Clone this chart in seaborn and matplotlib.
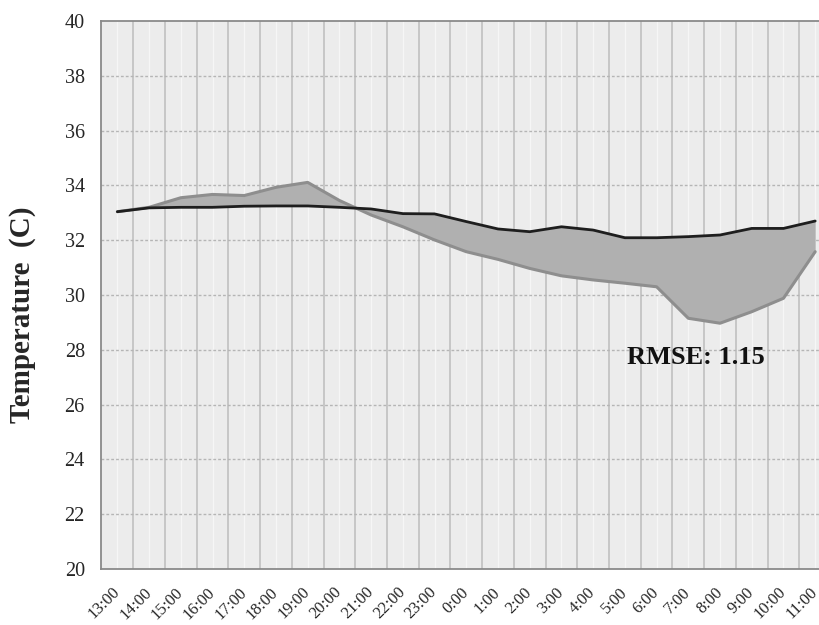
import numpy as np
import pandas as pd
import matplotlib
matplotlib.use("Agg")
import matplotlib.pyplot as plt
import seaborn as sns

hours = ["13:00", "14:00", "15:00", "16:00", "17:00", "18:00", "19:00", "20:00",
         "21:00", "22:00", "23:00", "0:00", "1:00", "2:00", "3:00", "4:00",
         "5:00", "6:00", "7:00", "8:00", "9:00", "10:00", "11:00"]
observed = [33.04, 33.18, 33.20, 33.20, 33.24, 33.25, 33.25, 33.20,
            33.14, 32.97, 32.96, 32.68, 32.41, 32.31, 32.49, 32.37,
            32.09, 32.09, 32.13, 32.19, 32.43, 32.43, 32.70]
predicted = [33.04, 33.20, 33.55, 33.67, 33.63, 33.93, 34.11, 33.45,
             32.92, 32.49, 32.01, 31.58, 31.30, 30.97, 30.70, 30.55,
             30.43, 30.30, 29.15, 28.97, 29.39, 29.88, 31.58]
y_ticks = [20, 22, 24, 26, 28, 30, 32, 34, 36, 38, 40]
rmse_text = "RMSE: 1.15"

sns.set_theme(style="white")
plt.rcParams["font.family"] = ["Liberation Serif", "DejaVu Serif"]

idx = np.arange(len(hours))
df = pd.DataFrame({"idx": idx, "observed": observed, "predicted": predicted})

fig = plt.figure(figsize=(8.2, 6.25), dpi=100)
ax = fig.add_axes([101.5 / 820, 56 / 625, (820 - 101.5) / 820, 548 / 625])
ax.set_facecolor("#ececec")

ax.fill_between(df["idx"], df["observed"], df["predicted"], color="#b0b0b0",
                linewidth=0, zorder=2)
sns.lineplot(data=df, x="idx", y="predicted", ax=ax, color="#8e8e8e",
             linewidth=2.2, zorder=3)
sns.lineplot(data=df, x="idx", y="observed", ax=ax, color="#1e1e1e",
             linewidth=2.0, zorder=4)

ax.set_yticks(y_ticks)
ax.set_yticklabels([str(v) for v in y_ticks], fontsize=14.5)
ax.set_xticks(idx)
ax.set_xticklabels(hours, rotation=45, ha="right", va="center",
                   rotation_mode="anchor", fontsize=12)

ax.grid(False)
for v in idx:
    ax.axvline(v, color="#f6f6f6", linewidth=1.0, zorder=1)
for v in np.arange(0.5, len(hours), 1.0):
    ax.axvline(v, color="#c0c0c0", linewidth=1.2, zorder=1)
for v in y_ticks[1:-1]:
    ax.axhline(v, color="#b5b5b5", linewidth=1.0, linestyle=(0, (2, 1.5)), zorder=1)

ax.set_ylim(20, 40)
ax.set_xlim(-0.5, -0.5 + (820 - 101.5) / 31.72)

ax.tick_params(axis="both", which="both", length=0)
ax.tick_params(axis="y", pad=12)
ax.tick_params(axis="x", pad=15)
for s in ["left", "bottom", "top"]:
    ax.spines[s].set_color("#8a8a8a")
    ax.spines[s].set_linewidth(1.3)
ax.spines["right"].set_visible(False)

ax.set_xlabel("")
ax.set_ylabel("Temperature  (C)", fontsize=21, fontweight="bold")
ax.yaxis.set_label_coords(-65 / 718.5, (569 - 315) / 548)

ax.text((696 - 101.5) / 718.5, (569 - 358) / 548, rmse_text, transform=ax.transAxes,
        ha="center", va="center", fontsize=19, fontweight="bold", color="#111111",
        zorder=5)

fig.savefig("out.png", dpi=100)
